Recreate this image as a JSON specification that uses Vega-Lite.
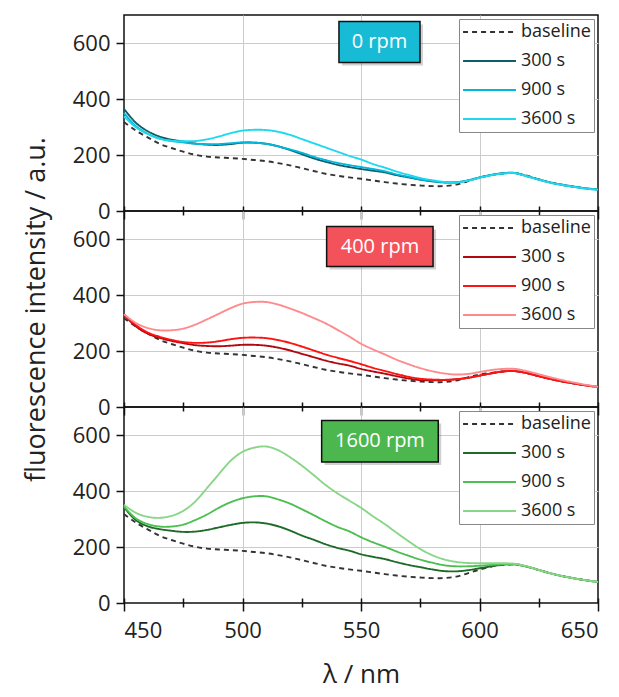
{
  "$schema": "https://vega.github.io/schema/vega-lite/v6.json",
  "background": "white",
  "padding": {"left": 21, "top": 14, "right": 4, "bottom": 8},
  "bounds": "flush",
  "spacing": 0,
  "config": {
    "font": "Open Sans",
    "view": {"stroke": "#111111", "strokeWidth": 1.5},
    "axis": {"domain": false, "tickColor": "#111111", "tickWidth": 1.5, "gridColor": "#cccccc", "gridWidth": 1,
      "labelFont": "Open Sans", "labelFontSize": 22, "labelColor": "#222222",
      "titleFont": "Open Sans", "titleFontSize": 27, "titleFontWeight": "normal", "titleColor": "#222222"},
    "legend": {"orient": "top-right", "offset": 4, "fillColor": "white", "strokeColor": "#888888", "padding": 3,
      "symbolType": "stroke", "symbolSize": 2800, "symbolStrokeWidth": 2, "clipHeight": 20, "rowPadding": 9,
      "labelFont": "Open Sans", "labelFontSize": 18, "labelOffset": 4, "labelColor": "#222222"}
  },
  "datasets": {
    "spectra": [
      {"p":"0 rpm","x":450,"baseline":318,"300 s":365,"900 s":350,"3600 s":338},
      {"p":"0 rpm","x":455,"baseline":287,"300 s":315,"900 s":303,"3600 s":299},
      {"p":"0 rpm","x":460,"baseline":263,"300 s":285,"900 s":276,"3600 s":275},
      {"p":"0 rpm","x":465,"baseline":240,"300 s":266,"900 s":259,"3600 s":258},
      {"p":"0 rpm","x":470,"baseline":225,"300 s":255,"900 s":250,"3600 s":251},
      {"p":"0 rpm","x":475,"baseline":212,"300 s":248,"900 s":245,"3600 s":249},
      {"p":"0 rpm","x":480,"baseline":201,"300 s":241,"900 s":240,"3600 s":250},
      {"p":"0 rpm","x":485,"baseline":194,"300 s":237,"900 s":239,"3600 s":256},
      {"p":"0 rpm","x":490,"baseline":191,"300 s":236,"900 s":239,"3600 s":266},
      {"p":"0 rpm","x":495,"baseline":189,"300 s":239,"900 s":242,"3600 s":278},
      {"p":"0 rpm","x":500,"baseline":186,"300 s":244,"900 s":245,"3600 s":287},
      {"p":"0 rpm","x":505,"baseline":182,"300 s":244,"900 s":244,"3600 s":290},
      {"p":"0 rpm","x":510,"baseline":178,"300 s":240,"900 s":240,"3600 s":289},
      {"p":"0 rpm","x":515,"baseline":171,"300 s":231,"900 s":231,"3600 s":283},
      {"p":"0 rpm","x":520,"baseline":163,"300 s":218,"900 s":220,"3600 s":272},
      {"p":"0 rpm","x":525,"baseline":153,"300 s":203,"900 s":208,"3600 s":257},
      {"p":"0 rpm","x":530,"baseline":143,"300 s":188,"900 s":194,"3600 s":242},
      {"p":"0 rpm","x":535,"baseline":133,"300 s":176,"900 s":182,"3600 s":227},
      {"p":"0 rpm","x":540,"baseline":126,"300 s":165,"900 s":172,"3600 s":212},
      {"p":"0 rpm","x":545,"baseline":120,"300 s":157,"900 s":164,"3600 s":197},
      {"p":"0 rpm","x":550,"baseline":115,"300 s":150,"900 s":157,"3600 s":184},
      {"p":"0 rpm","x":555,"baseline":109,"300 s":144,"900 s":150,"3600 s":168},
      {"p":"0 rpm","x":560,"baseline":103,"300 s":138,"900 s":142,"3600 s":155},
      {"p":"0 rpm","x":565,"baseline":98,"300 s":128,"900 s":131,"3600 s":141},
      {"p":"0 rpm","x":570,"baseline":94,"300 s":120,"900 s":122,"3600 s":129},
      {"p":"0 rpm","x":575,"baseline":91,"300 s":112,"900 s":113,"3600 s":118},
      {"p":"0 rpm","x":580,"baseline":89,"300 s":106,"900 s":107,"3600 s":110},
      {"p":"0 rpm","x":585,"baseline":89,"300 s":102,"900 s":103,"3600 s":104},
      {"p":"0 rpm","x":590,"baseline":94,"300 s":102,"900 s":103,"3600 s":102},
      {"p":"0 rpm","x":595,"baseline":106,"300 s":109,"900 s":109,"3600 s":108},
      {"p":"0 rpm","x":600,"baseline":119,"300 s":120,"900 s":119,"3600 s":119},
      {"p":"0 rpm","x":605,"baseline":128,"300 s":129,"900 s":128,"3600 s":128},
      {"p":"0 rpm","x":610,"baseline":134,"300 s":135,"900 s":134,"3600 s":134},
      {"p":"0 rpm","x":615,"baseline":135,"300 s":136,"900 s":135,"3600 s":135},
      {"p":"0 rpm","x":620,"baseline":126,"300 s":125,"900 s":124,"3600 s":124},
      {"p":"0 rpm","x":625,"baseline":113,"300 s":113,"900 s":112,"3600 s":112},
      {"p":"0 rpm","x":630,"baseline":102,"300 s":102,"900 s":101,"3600 s":101},
      {"p":"0 rpm","x":635,"baseline":93,"300 s":94,"900 s":93,"3600 s":93},
      {"p":"0 rpm","x":640,"baseline":86,"300 s":87,"900 s":86,"3600 s":86},
      {"p":"0 rpm","x":645,"baseline":80,"300 s":81,"900 s":80,"3600 s":80},
      {"p":"0 rpm","x":650,"baseline":76,"300 s":77,"900 s":76,"3600 s":76},
      {"p":"400 rpm","x":450,"baseline":318,"300 s":329,"900 s":331,"3600 s":331},
      {"p":"400 rpm","x":455,"baseline":287,"300 s":288,"900 s":293,"3600 s":300},
      {"p":"400 rpm","x":460,"baseline":263,"300 s":262,"900 s":266,"3600 s":282},
      {"p":"400 rpm","x":465,"baseline":240,"300 s":247,"900 s":251,"3600 s":274},
      {"p":"400 rpm","x":470,"baseline":225,"300 s":236,"900 s":240,"3600 s":274},
      {"p":"400 rpm","x":475,"baseline":212,"300 s":228,"900 s":232,"3600 s":280},
      {"p":"400 rpm","x":480,"baseline":201,"300 s":221,"900 s":229,"3600 s":294},
      {"p":"400 rpm","x":485,"baseline":194,"300 s":218,"900 s":230,"3600 s":313},
      {"p":"400 rpm","x":490,"baseline":191,"300 s":217,"900 s":235,"3600 s":333},
      {"p":"400 rpm","x":495,"baseline":189,"300 s":219,"900 s":242,"3600 s":353},
      {"p":"400 rpm","x":500,"baseline":186,"300 s":222,"900 s":247,"3600 s":369},
      {"p":"400 rpm","x":505,"baseline":182,"300 s":222,"900 s":248,"3600 s":375},
      {"p":"400 rpm","x":510,"baseline":178,"300 s":219,"900 s":246,"3600 s":375},
      {"p":"400 rpm","x":515,"baseline":171,"300 s":212,"900 s":239,"3600 s":366},
      {"p":"400 rpm","x":520,"baseline":163,"300 s":202,"900 s":229,"3600 s":352},
      {"p":"400 rpm","x":525,"baseline":153,"300 s":190,"900 s":216,"3600 s":336},
      {"p":"400 rpm","x":530,"baseline":143,"300 s":178,"900 s":202,"3600 s":318},
      {"p":"400 rpm","x":535,"baseline":133,"300 s":166,"900 s":188,"3600 s":299},
      {"p":"400 rpm","x":540,"baseline":126,"300 s":156,"900 s":176,"3600 s":276},
      {"p":"400 rpm","x":545,"baseline":120,"300 s":148,"900 s":165,"3600 s":252},
      {"p":"400 rpm","x":550,"baseline":115,"300 s":136,"900 s":153,"3600 s":226},
      {"p":"400 rpm","x":555,"baseline":109,"300 s":127,"900 s":140,"3600 s":206},
      {"p":"400 rpm","x":560,"baseline":103,"300 s":119,"900 s":129,"3600 s":188},
      {"p":"400 rpm","x":565,"baseline":98,"300 s":110,"900 s":118,"3600 s":169},
      {"p":"400 rpm","x":570,"baseline":94,"300 s":102,"900 s":108,"3600 s":153},
      {"p":"400 rpm","x":575,"baseline":91,"300 s":96,"900 s":101,"3600 s":139},
      {"p":"400 rpm","x":580,"baseline":89,"300 s":95,"900 s":98,"3600 s":128},
      {"p":"400 rpm","x":585,"baseline":89,"300 s":96,"900 s":97,"3600 s":120},
      {"p":"400 rpm","x":590,"baseline":94,"300 s":99,"900 s":99,"3600 s":116},
      {"p":"400 rpm","x":595,"baseline":106,"300 s":104,"900 s":104,"3600 s":118},
      {"p":"400 rpm","x":600,"baseline":116,"300 s":112,"900 s":112,"3600 s":125},
      {"p":"400 rpm","x":605,"baseline":122,"300 s":120,"900 s":120,"3600 s":132},
      {"p":"400 rpm","x":610,"baseline":127,"300 s":127,"900 s":127,"3600 s":136},
      {"p":"400 rpm","x":615,"baseline":128,"300 s":128,"900 s":128,"3600 s":136},
      {"p":"400 rpm","x":620,"baseline":121,"300 s":121,"900 s":121,"3600 s":128},
      {"p":"400 rpm","x":625,"baseline":110,"300 s":110,"900 s":110,"3600 s":117},
      {"p":"400 rpm","x":630,"baseline":100,"300 s":100,"900 s":100,"3600 s":106},
      {"p":"400 rpm","x":635,"baseline":91,"300 s":91,"900 s":91,"3600 s":96},
      {"p":"400 rpm","x":640,"baseline":84,"300 s":84,"900 s":84,"3600 s":87},
      {"p":"400 rpm","x":645,"baseline":77,"300 s":77,"900 s":77,"3600 s":79},
      {"p":"400 rpm","x":650,"baseline":72,"300 s":72,"900 s":72,"3600 s":72},
      {"p":"1600 rpm","x":450,"baseline":318,"300 s":342,"900 s":345,"3600 s":351},
      {"p":"1600 rpm","x":455,"baseline":287,"300 s":296,"900 s":302,"3600 s":322},
      {"p":"1600 rpm","x":460,"baseline":263,"300 s":274,"900 s":282,"3600 s":308},
      {"p":"1600 rpm","x":465,"baseline":240,"300 s":264,"900 s":273,"3600 s":304},
      {"p":"1600 rpm","x":470,"baseline":225,"300 s":258,"900 s":273,"3600 s":311},
      {"p":"1600 rpm","x":475,"baseline":212,"300 s":254,"900 s":280,"3600 s":329},
      {"p":"1600 rpm","x":480,"baseline":201,"300 s":255,"900 s":296,"3600 s":362},
      {"p":"1600 rpm","x":485,"baseline":194,"300 s":261,"900 s":316,"3600 s":410},
      {"p":"1600 rpm","x":490,"baseline":191,"300 s":270,"900 s":340,"3600 s":460},
      {"p":"1600 rpm","x":495,"baseline":189,"300 s":279,"900 s":360,"3600 s":508},
      {"p":"1600 rpm","x":500,"baseline":186,"300 s":286,"900 s":374,"3600 s":540},
      {"p":"1600 rpm","x":505,"baseline":182,"300 s":288,"900 s":381,"3600 s":555},
      {"p":"1600 rpm","x":510,"baseline":178,"300 s":284,"900 s":381,"3600 s":559},
      {"p":"1600 rpm","x":515,"baseline":171,"300 s":274,"900 s":370,"3600 s":546},
      {"p":"1600 rpm","x":520,"baseline":163,"300 s":259,"900 s":355,"3600 s":521},
      {"p":"1600 rpm","x":525,"baseline":153,"300 s":241,"900 s":335,"3600 s":491},
      {"p":"1600 rpm","x":530,"baseline":143,"300 s":226,"900 s":314,"3600 s":457},
      {"p":"1600 rpm","x":535,"baseline":133,"300 s":210,"900 s":292,"3600 s":422},
      {"p":"1600 rpm","x":540,"baseline":126,"300 s":197,"900 s":272,"3600 s":392},
      {"p":"1600 rpm","x":545,"baseline":120,"300 s":187,"900 s":256,"3600 s":366},
      {"p":"1600 rpm","x":550,"baseline":115,"300 s":174,"900 s":235,"3600 s":340},
      {"p":"1600 rpm","x":555,"baseline":109,"300 s":165,"900 s":217,"3600 s":310},
      {"p":"1600 rpm","x":560,"baseline":103,"300 s":157,"900 s":201,"3600 s":282},
      {"p":"1600 rpm","x":565,"baseline":98,"300 s":146,"900 s":184,"3600 s":251},
      {"p":"1600 rpm","x":570,"baseline":94,"300 s":136,"900 s":169,"3600 s":221},
      {"p":"1600 rpm","x":575,"baseline":91,"300 s":128,"900 s":155,"3600 s":193},
      {"p":"1600 rpm","x":580,"baseline":89,"300 s":120,"900 s":144,"3600 s":171},
      {"p":"1600 rpm","x":585,"baseline":89,"300 s":114,"900 s":135,"3600 s":156},
      {"p":"1600 rpm","x":590,"baseline":94,"300 s":113,"900 s":131,"3600 s":147},
      {"p":"1600 rpm","x":595,"baseline":106,"300 s":117,"900 s":131,"3600 s":143},
      {"p":"1600 rpm","x":600,"baseline":119,"300 s":124,"900 s":133,"3600 s":142},
      {"p":"1600 rpm","x":605,"baseline":130,"300 s":131,"900 s":136,"3600 s":142},
      {"p":"1600 rpm","x":610,"baseline":136,"300 s":137,"900 s":138,"3600 s":142},
      {"p":"1600 rpm","x":615,"baseline":138,"300 s":138,"900 s":138,"3600 s":140},
      {"p":"1600 rpm","x":620,"baseline":130,"300 s":130,"900 s":130,"3600 s":131},
      {"p":"1600 rpm","x":625,"baseline":118,"300 s":118,"900 s":118,"3600 s":118},
      {"p":"1600 rpm","x":630,"baseline":106,"300 s":106,"900 s":106,"3600 s":106},
      {"p":"1600 rpm","x":635,"baseline":96,"300 s":96,"900 s":96,"3600 s":96},
      {"p":"1600 rpm","x":640,"baseline":88,"300 s":88,"900 s":88,"3600 s":88},
      {"p":"1600 rpm","x":645,"baseline":81,"300 s":81,"900 s":81,"3600 s":81},
      {"p":"1600 rpm","x":650,"baseline":75,"300 s":75,"900 s":75,"3600 s":75}
    ],
    "boxes": [
      {"p":"0 rpm","x":540.7,"x2":574.9,"v":677,"v2":530,"xc":557.8,"vc":603},
      {"p":"400 rpm","x":535.5,"x2":580.4,"v":645,"v2":502,"xc":558,"vc":573},
      {"p":"1600 rpm","x":533.4,"x2":582.6,"v":652,"v2":504,"xc":558,"vc":578}
    ]
  },
  "resolve": {"scale": {"x": "independent", "y": "independent", "color": "independent", "strokeDash": "independent"}},
  "vconcat": [
    {
      "width": 474, "height": 196,
      "layer": [
        {
          "data": {"name": "spectra"},
          "transform": [{"filter": "datum.p === '0 rpm'"}, {"fold": ["baseline", "300 s", "900 s", "3600 s"], "as": ["s", "v"]}],
          "mark": {"type": "line", "strokeWidth": 1.9, "interpolate": "catmull-rom"},
          "encoding": {
            "x": {"field": "x", "type": "quantitative", "scale": {"domain": [450, 650], "nice": false},
              "axis": {"title": null, "values": [450,475,500,525,550,575,600,625,650], "offset": -5, "labels": false,
                "tickSize": {"condition": {"test": "datum.value % 50 === 0", "value": 13}, "value": 9},
                "gridOpacity": {"condition": {"test": "datum.value % 50 === 0 && datum.value > 450 && datum.value < 650", "value": 1}, "value": 0}}},
            "y": {"field": "v", "type": "quantitative", "scale": {"domain": [0, 700], "nice": false},
              "axis": {"title": null, "values": [0,100,200,300,400,500,600], "labelPadding": 6,
                "labelExpr": "datum.value % 200 === 0 ? datum.label : ''",
                "tickSize": {"condition": {"test": "datum.value % 200 === 0", "value": 8}, "value": 5},
                "gridOpacity": {"condition": {"test": "datum.value % 200 === 0 && datum.value > 0", "value": 1}, "value": 0}}},
            "color": {"field": "s", "type": "nominal", "scale": {"domain": ["baseline", "300 s", "900 s", "3600 s"], "range": ["#333333", "#0B5F6A", "#00B6DA", "#1FD8EE"]}, "legend": {"title": null}},
            "strokeDash": {"field": "s", "type": "nominal", "scale": {"domain": ["baseline", "300 s", "900 s", "3600 s"], "range": [[5, 4], [1, 0], [1, 0], [1, 0]]}, "legend": {"title": null}}
          }
        },
        {
          "data": {"name": "boxes"},
          "transform": [{"filter": "datum.p === '0 rpm'"}],
          "mark": {"type": "rect", "fill": "#666666", "opacity": 0.3, "xOffset": 3, "x2Offset": 3, "yOffset": 3, "y2Offset": 3},
          "encoding": {"x": {"field": "x", "type": "quantitative"}, "x2": {"field": "x2"}, "y": {"field": "v", "type": "quantitative"}, "y2": {"field": "v2"}}
        },
        {
          "data": {"name": "boxes"},
          "transform": [{"filter": "datum.p === '0 rpm'"}],
          "mark": {"type": "rect", "fill": "#17BBD6", "stroke": "#111111", "strokeWidth": 1.5},
          "encoding": {"x": {"field": "x", "type": "quantitative"}, "x2": {"field": "x2"}, "y": {"field": "v", "type": "quantitative"}, "y2": {"field": "v2"}}
        },
        {
          "data": {"name": "boxes"},
          "transform": [{"filter": "datum.p === '0 rpm'"}],
          "mark": {"type": "text", "color": "white", "fontSize": 20, "font": "Open Sans", "align": "center", "baseline": "middle"},
          "encoding": {"x": {"field": "xc", "type": "quantitative"}, "y": {"field": "vc", "type": "quantitative"}, "text": {"field": "p"}}
        }
      ]
    },
    {
      "width": 474, "height": 196,
      "layer": [
        {
          "data": {"name": "spectra"},
          "transform": [{"filter": "datum.p === '400 rpm'"}, {"fold": ["baseline", "300 s", "900 s", "3600 s"], "as": ["s", "v"]}],
          "mark": {"type": "line", "strokeWidth": 1.9, "interpolate": "catmull-rom"},
          "encoding": {
            "x": {"field": "x", "type": "quantitative", "scale": {"domain": [450, 650], "nice": false},
              "axis": {"title": null, "values": [450,475,500,525,550,575,600,625,650], "offset": -5, "labels": false,
                "tickSize": {"condition": {"test": "datum.value % 50 === 0", "value": 13}, "value": 9},
                "gridOpacity": {"condition": {"test": "datum.value % 50 === 0 && datum.value > 450 && datum.value < 650", "value": 1}, "value": 0}}},
            "y": {"field": "v", "type": "quantitative", "scale": {"domain": [0, 700], "nice": false},
              "axis": {"title": "fluorescence intensity / a.u.", "titlePadding": 22, "values": [0,100,200,300,400,500,600], "labelPadding": 6,
                "labelExpr": "datum.value % 200 === 0 ? datum.label : ''",
                "tickSize": {"condition": {"test": "datum.value % 200 === 0", "value": 8}, "value": 5},
                "gridOpacity": {"condition": {"test": "datum.value % 200 === 0 && datum.value > 0", "value": 1}, "value": 0}}},
            "color": {"field": "s", "type": "nominal", "scale": {"domain": ["baseline", "300 s", "900 s", "3600 s"], "range": ["#333333", "#B00A10", "#FF1212", "#FF8A8E"]}, "legend": {"title": null}},
            "strokeDash": {"field": "s", "type": "nominal", "scale": {"domain": ["baseline", "300 s", "900 s", "3600 s"], "range": [[5, 4], [1, 0], [1, 0], [1, 0]]}, "legend": {"title": null}}
          }
        },
        {
          "data": {"name": "boxes"},
          "transform": [{"filter": "datum.p === '400 rpm'"}],
          "mark": {"type": "rect", "fill": "#666666", "opacity": 0.3, "xOffset": 3, "x2Offset": 3, "yOffset": 3, "y2Offset": 3},
          "encoding": {"x": {"field": "x", "type": "quantitative"}, "x2": {"field": "x2"}, "y": {"field": "v", "type": "quantitative"}, "y2": {"field": "v2"}}
        },
        {
          "data": {"name": "boxes"},
          "transform": [{"filter": "datum.p === '400 rpm'"}],
          "mark": {"type": "rect", "fill": "#F4525A", "stroke": "#111111", "strokeWidth": 1.5},
          "encoding": {"x": {"field": "x", "type": "quantitative"}, "x2": {"field": "x2"}, "y": {"field": "v", "type": "quantitative"}, "y2": {"field": "v2"}}
        },
        {
          "data": {"name": "boxes"},
          "transform": [{"filter": "datum.p === '400 rpm'"}],
          "mark": {"type": "text", "color": "white", "fontSize": 20, "font": "Open Sans", "align": "center", "baseline": "middle"},
          "encoding": {"x": {"field": "xc", "type": "quantitative"}, "y": {"field": "vc", "type": "quantitative"}, "text": {"field": "p"}}
        }
      ]
    },
    {
      "width": 474, "height": 196,
      "layer": [
        {
          "data": {"name": "spectra"},
          "transform": [{"filter": "datum.p === '1600 rpm'"}, {"fold": ["baseline", "300 s", "900 s", "3600 s"], "as": ["s", "v"]}],
          "mark": {"type": "line", "strokeWidth": 1.9, "interpolate": "catmull-rom"},
          "encoding": {
            "x": {"field": "x", "type": "quantitative", "scale": {"domain": [450, 650], "nice": false},
              "axis": {"title": "λ / nm", "titlePadding": 20, "titleFontSize": 26, "values": [450,475,500,525,550,575,600,625,650], "offset": -5, "labelPadding": 9,
                "labelExpr": "datum.value % 50 === 0 ? datum.label : ''",
                "tickSize": {"condition": {"test": "datum.value % 50 === 0", "value": 13}, "value": 9},
                "gridOpacity": {"condition": {"test": "datum.value % 50 === 0 && datum.value > 450 && datum.value < 650", "value": 1}, "value": 0}}},
            "y": {"field": "v", "type": "quantitative", "scale": {"domain": [0, 700], "nice": false},
              "axis": {"title": null, "values": [0,100,200,300,400,500,600], "labelPadding": 6,
                "labelExpr": "datum.value % 200 === 0 ? datum.label : ''",
                "tickSize": {"condition": {"test": "datum.value % 200 === 0", "value": 8}, "value": 5},
                "gridOpacity": {"condition": {"test": "datum.value % 200 === 0 && datum.value > 0", "value": 1}, "value": 0}}},
            "color": {"field": "s", "type": "nominal", "scale": {"domain": ["baseline", "300 s", "900 s", "3600 s"], "range": ["#333333", "#1E6A27", "#4DBE50", "#88D688"]}, "legend": {"title": null}},
            "strokeDash": {"field": "s", "type": "nominal", "scale": {"domain": ["baseline", "300 s", "900 s", "3600 s"], "range": [[5, 4], [1, 0], [1, 0], [1, 0]]}, "legend": {"title": null}}
          }
        },
        {
          "data": {"name": "boxes"},
          "transform": [{"filter": "datum.p === '1600 rpm'"}],
          "mark": {"type": "rect", "fill": "#666666", "opacity": 0.3, "xOffset": 3, "x2Offset": 3, "yOffset": 3, "y2Offset": 3},
          "encoding": {"x": {"field": "x", "type": "quantitative"}, "x2": {"field": "x2"}, "y": {"field": "v", "type": "quantitative"}, "y2": {"field": "v2"}}
        },
        {
          "data": {"name": "boxes"},
          "transform": [{"filter": "datum.p === '1600 rpm'"}],
          "mark": {"type": "rect", "fill": "#4DB74F", "stroke": "#111111", "strokeWidth": 1.5},
          "encoding": {"x": {"field": "x", "type": "quantitative"}, "x2": {"field": "x2"}, "y": {"field": "v", "type": "quantitative"}, "y2": {"field": "v2"}}
        },
        {
          "data": {"name": "boxes"},
          "transform": [{"filter": "datum.p === '1600 rpm'"}],
          "mark": {"type": "text", "color": "white", "fontSize": 20, "font": "Open Sans", "align": "center", "baseline": "middle"},
          "encoding": {"x": {"field": "xc", "type": "quantitative"}, "y": {"field": "vc", "type": "quantitative"}, "text": {"field": "p"}}
        }
      ]
    }
  ]
}
